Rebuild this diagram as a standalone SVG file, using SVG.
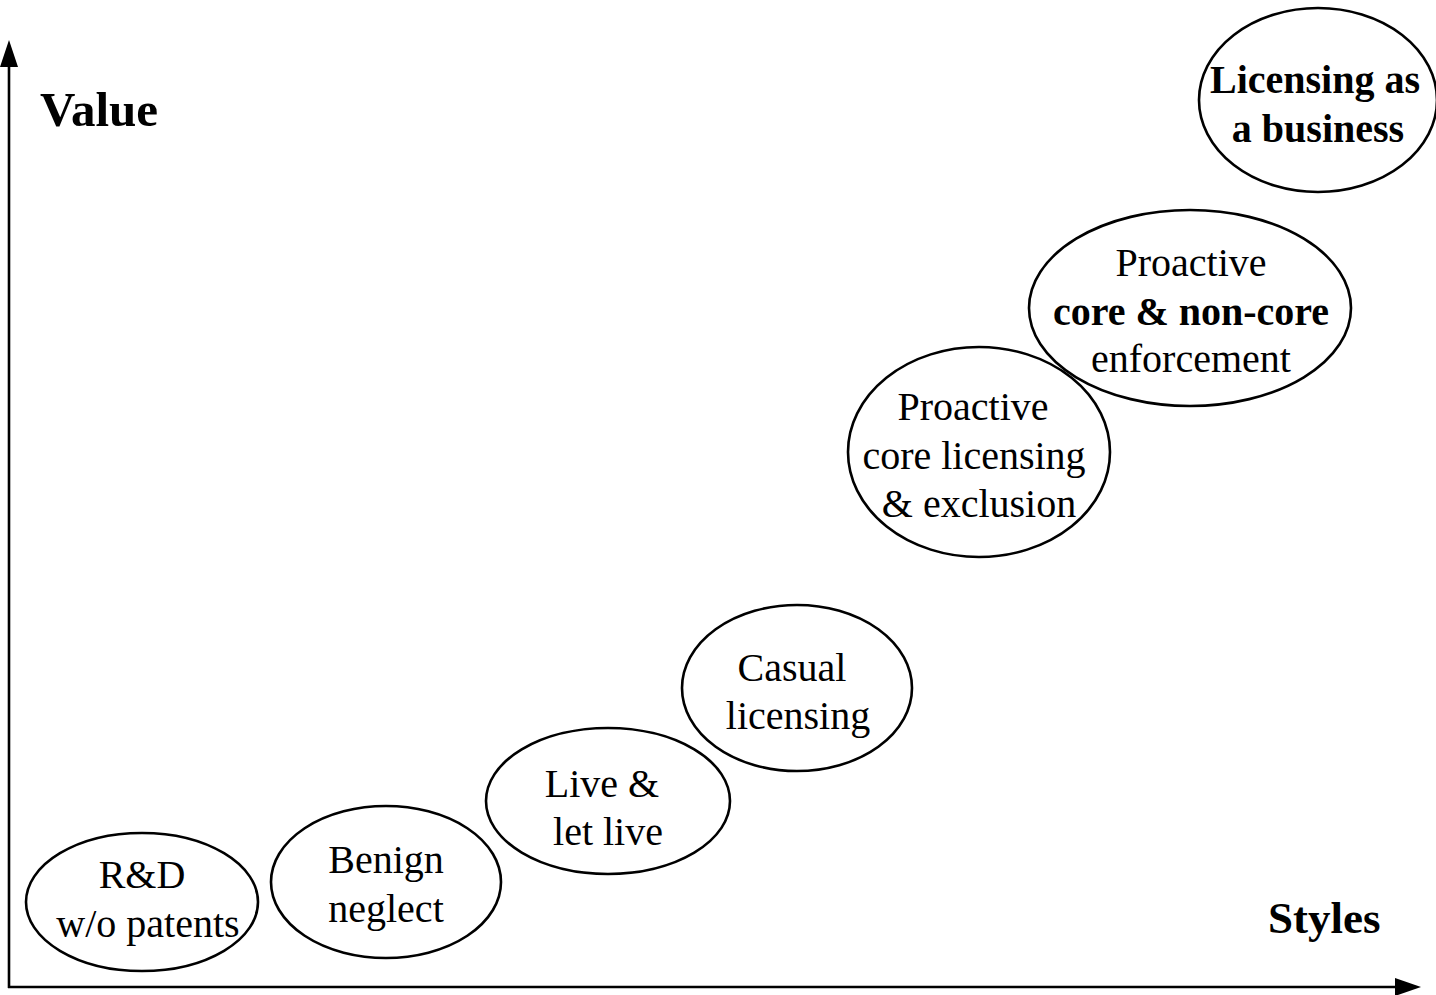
<svg xmlns="http://www.w3.org/2000/svg" width="1436" height="995" viewBox="0 0 1436 995">
<style>
.n{fill:none;stroke:#000;stroke-width:2.6}
text{font-family:"Liberation Serif","Times New Roman",serif;font-size:40px;fill:#000;text-anchor:middle}
.b{font-weight:bold}
.ax{font-weight:bold;font-size:45px;text-anchor:start}
.axis{stroke:#000;stroke-width:2.6;fill:none}
.head{fill:#000}
</style>
<rect width="1436" height="995" fill="#fff"/>
<g id="connectors">
<line class="axis" x1="9" y1="988" x2="9" y2="64"/>
<polygon class="head" points="9,40 0,67 18,67"/>
<line class="axis" x1="8" y1="987" x2="1398" y2="987"/>
<polygon class="head" points="1421,987 1395,978 1395,996"/>
</g>
<g id="axis-labels">
<text class="ax" x="40" y="126" style="font-size:49px">Value</text>
<text class="ax" x="1268" y="933">Styles</text>
</g>
<g id="n1"><ellipse class="n" cx="142" cy="902" rx="116" ry="69"/><text x="142" y="888">R&amp;D</text><text x="148" y="937">w/o patents</text></g>
<g id="n2"><ellipse class="n" cx="386" cy="882" rx="115" ry="76"/><text x="386" y="873">Benign</text><text x="386" y="922">neglect</text></g>
<g id="n3"><ellipse class="n" cx="608" cy="801" rx="122" ry="73"/><text x="602" y="797">Live &amp;</text><text x="608" y="845">let live</text></g>
<g id="n4"><ellipse class="n" cx="797" cy="688" rx="115" ry="83"/><text x="792" y="681">Casual</text><text x="798" y="729">licensing</text></g>
<g id="n5"><ellipse class="n" cx="979" cy="452" rx="131" ry="105"/><text x="973" y="420">Proactive</text><text x="974" y="469">core licensing</text><text x="979" y="517">&amp; exclusion</text></g>
<g id="n6"><ellipse class="n" cx="1190" cy="308" rx="161" ry="98"/><text x="1191" y="276">Proactive</text><text class="b" x="1191" y="325">core &amp; non-core</text><text x="1191" y="372">enforcement</text></g>
<g id="n7"><ellipse class="n" cx="1318" cy="100" rx="119" ry="92"/><text class="b" x="1315" y="93">Licensing as</text><text class="b" x="1318" y="142">a business</text></g>
</svg>
